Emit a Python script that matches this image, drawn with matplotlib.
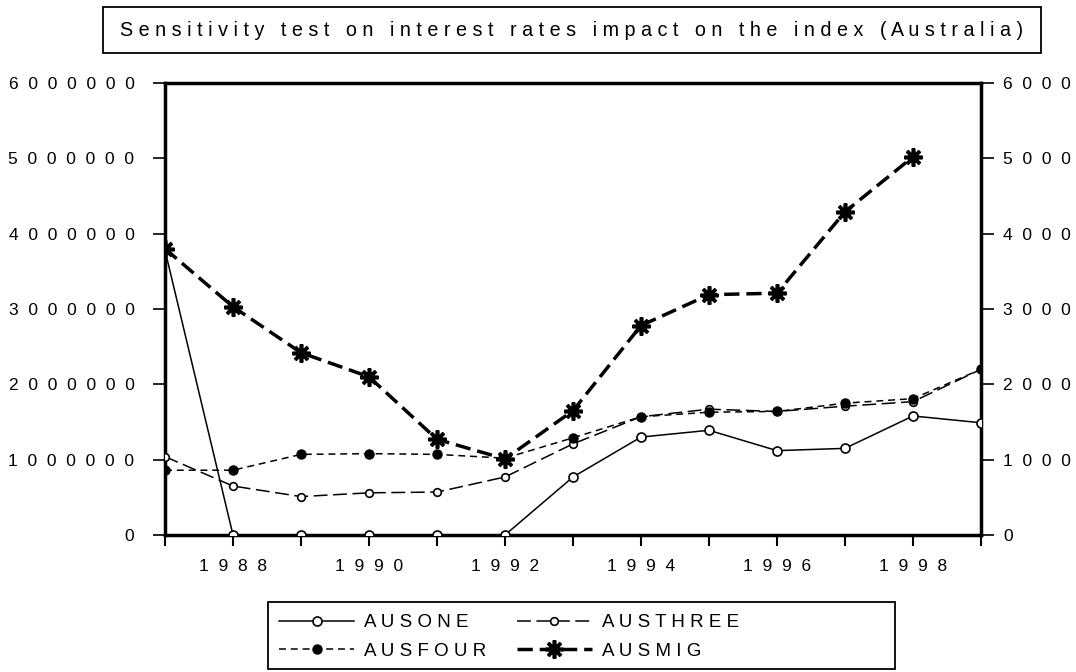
import numpy as np
import matplotlib
matplotlib.use("Agg")
import matplotlib.pyplot as plt
from matplotlib.patches import Rectangle

plt.rcParams['font.family'] = ['Liberation Sans', 'DejaVu Sans']
plt.rcParams['lines.scale_dashes'] = False

# data
years = [1987, 1988, 1989, 1990, 1991, 1992, 1993, 1994, 1995, 1996, 1997, 1998, 1999]
ausone = [3780000, 0, 0, 0, 0, 0, 770000, 1300000, 1390000, 1120000, 1150000, 1580000, 1490000]
austhree = [1040000, 650000, 510000, 560000, 570000, 770000, 1210000, 1570000, 1670000, 1640000, 1710000, 1770000, 2200000]
ausfour = [860000, 860000, 1070000, 1080000, 1070000, 1020000, 1290000, 1570000, 1630000, 1640000, 1750000, 1810000, 2200000]
ausmig = [3800000, 3030000, 2420000, 2100000, 1270000, 1010000, 1650000, 2780000, 3190000, 3210000, 4290000, 5020000, np.nan]

yticks = [0, 1000000, 2000000, 3000000, 4000000, 5000000, 6000000]
# right axis labels are cut short in the original
right_labels = ["0", "1000", "2000", "3000", "4000", "5000", "6000"]
xlabel_years = [1988, 1990, 1992, 1994, 1996, 1998]
title = "Sensitivity test on interest rates impact on the index (Australia)"
names = ["AUSONE", "AUSTHREE", "AUSFOUR", "AUSMIG"]


def spaced(s, gap=" "):
    # the original uses very wide letter spacing
    return gap.join(s)


W, H = 1076, 672
fig = plt.figure(figsize=(W / 100, H / 100), dpi=100)
ax = fig.add_axes([165 / W, 1 - 535 / H, (981 - 165) / W, (535 - 83) / H])

l1, = ax.plot(years, ausone, '-', color='black', lw=1.1, marker='o', ms=6.5,
              mfc='white', mec='black', mew=1.2, zorder=3)
l2, = ax.plot(years, austhree, color='black', lw=1.1, ls=(0, (10, 4)), marker='o', ms=5.5,
              mfc='white', mec='black', mew=1.2, zorder=3)
l3, = ax.plot(years, ausfour, color='black', lw=1.1, ls=(0, (5, 3.5)), marker='o', ms=6.5,
              mfc='black', mec='black', zorder=4)
l4, = ax.plot(years, ausmig, color='black', lw=2.5, ls=(0, (11, 5)), marker=(8, 2, 0), ms=13,
              mec='black', mew=2.6, zorder=5)

ax.set_xlim(1987, 1999)
ax.set_ylim(0, 6000000)

for s in ax.spines.values():
    s.set_linewidth(2.5)

ax.set_xticks(years)
ax.set_xticklabels([spaced(str(y), "  ") if y in xlabel_years else "" for y in years])
ax.set_yticks(yticks)
ax.set_yticklabels([spaced(str(v), "  ") for v in yticks])
ax.tick_params(axis='x', direction='out', length=8, width=1.5, pad=9, labelsize=12.5)
ax.tick_params(axis='y', direction='out', length=9, width=1.2, pad=13, labelsize=12.5)

# right hand scale
ax2 = ax.twinx()
ax2.set_ylim(ax.get_ylim())
ax2.set_yticks(yticks)
ax2.set_yticklabels([spaced(t, "  ") for t in right_labels])
ax2.tick_params(axis='y', direction='out', length=9, width=1.2, pad=7, labelsize=12.5)
for s in ax2.spines.values():
    s.set_visible(False)

# title in a box
fig.patches.append(Rectangle((103 / W, 1 - 53 / H), (1041 - 103) / W, 46 / H,
                             transform=fig.transFigure, fill=False, ec='black', lw=1.3))
fig.text(572 / W, 1 - 30 / H, spaced(title), ha='center', va='center', fontsize=14.2)

# legend in a box
fig.patches.append(Rectangle((268 / W, 1 - 669 / H), (895 - 268) / W, (669 - 602) / H,
                             transform=fig.transFigure, fill=False, ec='black', lw=1.3))
leg = fig.legend([l1, l3, l2, l4], [spaced(n) for n in [names[0], names[2], names[1], names[3]]],
                 ncol=2, loc='upper left', bbox_to_anchor=(279 / W, 1 - 614 / H), borderaxespad=0,
                 borderpad=0, fontsize=13.5, handlelength=4.0, handletextpad=0.55,
                 columnspacing=1.6, labelspacing=0.6, frameon=False)

fig.savefig("out.png", dpi=100)
